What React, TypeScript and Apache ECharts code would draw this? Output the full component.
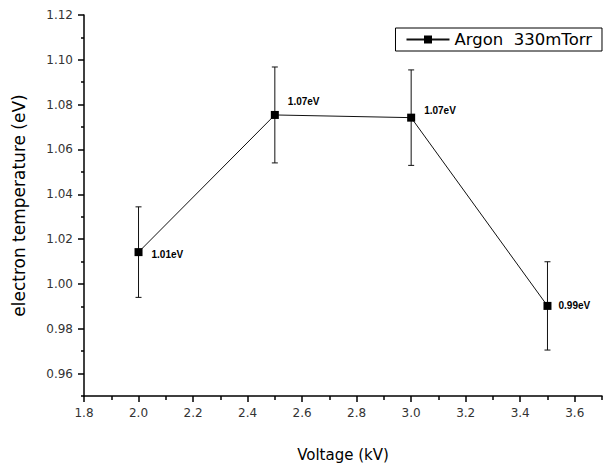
import React, { useEffect, useRef } from "react";
import * as echarts from "echarts";

const voltages = [2.0, 2.5, 3.0, 3.5];
const temperatures = [1.0142, 1.0754, 1.0742, 0.9902];
const errors = [0.0202, 0.0214, 0.0213, 0.0197];
const pointLabels = ["1.01eV", "1.07eV", "1.07eV", "0.99eV"];
const seriesName = "Argon  330mTorr";
const yMajorTicks = [0.96, 0.98, 1.0, 1.02, 1.04, 1.06, 1.08, 1.1, 1.12];
const yMinorTicks = [0.95, 0.97, 0.99, 1.01, 1.03, 1.05, 1.07, 1.09, 1.11];
const xMajorTicks = [1.8, 2.0, 2.2, 2.4, 2.6, 2.8, 3.0, 3.2, 3.4, 3.6];
const xMinorTicks = [1.9, 2.1, 2.3, 2.5, 2.7, 2.9, 3.1, 3.3, 3.5, 3.7];

const FONT = "DejaVu Sans, Liberation Sans, sans-serif";
const LABEL_FONT = "Liberation Sans, Arial, sans-serif";

export default function App() {
  const ref = useRef<HTMLDivElement>(null);
  useEffect(() => {
    if (!ref.current) return;
    const chart = echarts.init(ref.current, null, { renderer: "svg" });
    const labelOffsets = [
      [4, 2],
      [4, -13],
      [4, -7],
      [2, 0],
    ];
    const xBase = {
      type: "value" as const,
      min: 1.8,
      max: 3.7,
      position: "bottom" as const,
      splitLine: { show: false },
    };
    const yBase = {
      type: "value" as const,
      min: 0.95,
      max: 1.12,
      position: "left" as const,
      splitLine: { show: false },
    };
    chart.setOption({
      animation: false,
      backgroundColor: "#fff",
      textStyle: { fontFamily: FONT },
      grid: { left: 84, right: 3, top: 15, bottom: 70, containLabel: false },
      legend: {
        show: true,
        right: 3,
        top: 28,
        orient: "horizontal",
        borderColor: "#000",
        borderWidth: 1,
        borderRadius: 0,
        padding: [3, 10, 3, 10],
        itemWidth: 43,
        itemHeight: 10,
        itemGap: 4,
        textStyle: { fontSize: 16.5, color: "#000", fontFamily: FONT },
        data: [seriesName],
      },
      xAxis: [
        {
          ...xBase,
          name: "Voltage (kV)",
          nameLocation: "middle",
          nameGap: 51,
          nameTextStyle: { fontSize: 15, color: "#000", fontFamily: FONT },
          axisLine: { show: true, lineStyle: { color: "#000", width: 1.5 } },
          axisTick: {
            show: true,
            inside: false,
            length: 6,
            customValues: xMajorTicks,
            lineStyle: { color: "#000", width: 1.5 },
          },
          axisLabel: {
            show: true,
            customValues: xMajorTicks,
            margin: 11,
            fontSize: 12,
            color: "#333",
            fontFamily: FONT,
            formatter: (v: number) => v.toFixed(1),
          },
        },
        {
          ...xBase,
          axisLine: { show: false },
          axisTick: {
            show: true,
            inside: false,
            length: 4,
            customValues: xMinorTicks,
            lineStyle: { color: "#000", width: 1.5 },
          },
          axisLabel: { show: false },
        },
      ],
      yAxis: [
        {
          ...yBase,
          name: "electron temperature (eV)",
          nameLocation: "middle",
          nameGap: 57,
          nameTextStyle: { fontSize: 17, color: "#000", fontFamily: FONT },
          axisLine: { show: true, lineStyle: { color: "#000", width: 1.5 } },
          axisTick: {
            show: true,
            inside: false,
            length: 6,
            customValues: yMajorTicks,
            lineStyle: { color: "#000", width: 1.5 },
          },
          axisLabel: {
            show: true,
            customValues: yMajorTicks,
            margin: 11,
            fontSize: 12,
            color: "#333",
            fontFamily: FONT,
            formatter: (v: number) => v.toFixed(2),
          },
        },
        {
          ...yBase,
          axisLine: { show: false },
          axisTick: {
            show: true,
            inside: false,
            length: 3,
            customValues: yMinorTicks,
            lineStyle: { color: "#000", width: 1.5 },
          },
          axisLabel: { show: false },
        },
      ],
      series: [
        {
          name: "errorbars",
          type: "custom",
          xAxisIndex: 0,
          yAxisIndex: 0,
          silent: true,
          z: 1,
          data: voltages.map((v, i) => [
            v,
            temperatures[i],
            temperatures[i] - errors[i],
            temperatures[i] + errors[i],
          ]),
          renderItem: (params: any, api: any) => {
            const x = api.value(0);
            const lo = api.coord([x, api.value(2)]);
            const hi = api.coord([x, api.value(3)]);
            const cap = 3;
            const style = { stroke: "#111", lineWidth: 1 };
            return {
              type: "group",
              children: [
                { type: "line", shape: { x1: lo[0], y1: lo[1], x2: hi[0], y2: hi[1] }, style },
                { type: "line", shape: { x1: lo[0] - cap, y1: lo[1], x2: lo[0] + cap, y2: lo[1] }, style },
                { type: "line", shape: { x1: hi[0] - cap, y1: hi[1], x2: hi[0] + cap, y2: hi[1] }, style },
              ],
            };
          },
        },
        {
          name: seriesName,
          type: "line",
          xAxisIndex: 0,
          yAxisIndex: 0,
          z: 3,
          symbol: "rect",
          symbolSize: 8,
          itemStyle: { color: "#000" },
          lineStyle: { color: "#111", width: 1 },
          data: voltages.map((v, i) => ({
            value: [v, temperatures[i]],
            label: {
              show: true,
              position: "right",
              offset: labelOffsets[i],
              formatter: pointLabels[i],
              fontSize: 10,
              fontWeight: "bold",
              color: "#000",
              fontFamily: LABEL_FONT,
            },
          })),
        },
      ],
    });
    return () => chart.dispose();
  }, []);
  return (
    <div
      ref={ref}
      style={{ position: "fixed", left: 0, top: 0, width: 605, height: 467, background: "#fff" }}
    />
  );
}
